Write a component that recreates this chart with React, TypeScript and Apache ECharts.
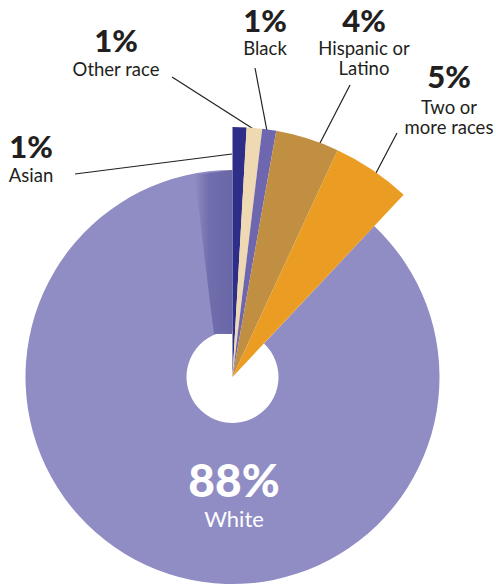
import React, { useEffect, useRef } from "react";
import * as echarts from "echarts";

const categories = ["Asian", "Other race", "Black", "Hispanic or\nLatino", "Two or\nmore races", "White"];
const values = [0.9, 1.0, 0.9, 4.1, 5.1, 88.0];
const pctLabels = ["1%", "1%", "1%", "4%", "5%", "88%"];
const colors = ["#2e2e88", "#efd9b3", "#6f66b0", "#c08f42", "#eb9c22", "#8f8dc4"];

export default function App() {
  const ref = useRef<HTMLDivElement>(null);
  useEffect(() => {
    const chart = echarts.init(ref.current!, null, { renderer: "svg" });
    const cx = 232.5;
    const cy = 377;
    const font = "Lato, 'Open Sans', sans-serif";
    // label positions [pctX, pctY, nameY]
    const labelPos: [number, number, number][] = [
      [31, 146, 175],
      [116, 40, 69],
      [265, 20, 48],
      [364, 20, 48],
      [449, 76, 107],
    ];
    const lines: [number, number, number, number][] = [
      [75, 174, 232, 154],
      [172, 77, 255, 130],
      [255, 68, 267, 131],
      [350, 85, 319, 145],
      [397, 133, 376, 173],
    ];
    const graphics: any[] = [];
    labelPos.forEach((p, i) => {
      graphics.push({
        type: "text",
        x: p[0],
        y: p[1],
        style: {
          text: pctLabels[i],
          font: `900 31px ${font}`,
          fill: "#231f20",
          textAlign: "center",
          textVerticalAlign: "middle",
          lineHeight: 30,
        },
      });
      graphics.push({
        type: "text",
        x: p[0],
        y: p[2] - 10,
        style: {
          text: categories[i],
          font: `400 18.5px ${font}`,
          fill: "#231f20",
          textAlign: "center",
          textVerticalAlign: "top",
          lineHeight: 20,
        },
      });
      const l = lines[i];
      graphics.push({
        type: "line",
        shape: { x1: l[0], y1: l[1], x2: l[2], y2: l[3] },
        style: { stroke: "#231f20", lineWidth: 1.2 },
        z: 1,
      });
    });
    graphics.push({
      type: "polygon",
      shape: { points: [[194, 175], [232, 170], [232, 334], [214, 334], [206, 270], [199, 210]] },
      style: {
        fill: new echarts.graphic.LinearGradient(0, 0, 1, 0, [
          { offset: 0, color: "rgba(107,104,168,0)" },
          { offset: 0.4, color: "rgba(107,104,168,0.85)" },
          { offset: 1, color: "#6a67a8" },
        ]),
      },
      z: 5,
    });
    graphics.push({
      type: "text",
      x: 234,
      y: 479,
      style: {
        text: pctLabels[5],
        font: `900 46px ${font}`,
        fill: "#ffffff",
        textAlign: "center",
        textVerticalAlign: "middle",
        lineHeight: 38,
      },
      z: 20,
    });
    graphics.push({
      type: "text",
      x: 234,
      y: 518,
      style: {
        text: categories[5],
        font: `400 22px ${font}`,
        fill: "#ffffff",
        textAlign: "center",
        textVerticalAlign: "middle",
        lineHeight: 22,
      },
      z: 20,
    });

    chart.setOption({
      animation: false,
      backgroundColor: "#ffffff",
      graphic: graphics,
      series: [
        {
          type: "pie",
          center: [cx, cy],
          radius: [46, 207],
          startAngle: 90,
          clockwise: true,
          label: { show: false },
          labelLine: { show: false },
          silent: true,
          z: 2,
          data: values.map((v, i) => ({
            value: v,
            name: categories[i],
            itemStyle: { color: i === 5 ? colors[i] : "rgba(0,0,0,0)" },
          })),
        },
        {
          type: "pie",
          center: [cx, cy],
          radius: [0, 250],
          startAngle: 90,
          clockwise: true,
          label: { show: false },
          labelLine: { show: false },
          silent: true,
          z: 10,
          data: values.map((v, i) => ({
            value: v,
            name: categories[i],
            itemStyle: { color: i === 5 ? "rgba(0,0,0,0)" : colors[i] },
          })),
        },
      ],
    });
    return () => chart.dispose();
  }, []);
  return (
    <div
      ref={ref}
      style={{ position: "fixed", left: 0, top: 0, width: 496, height: 587 }}
    />
  );
}
